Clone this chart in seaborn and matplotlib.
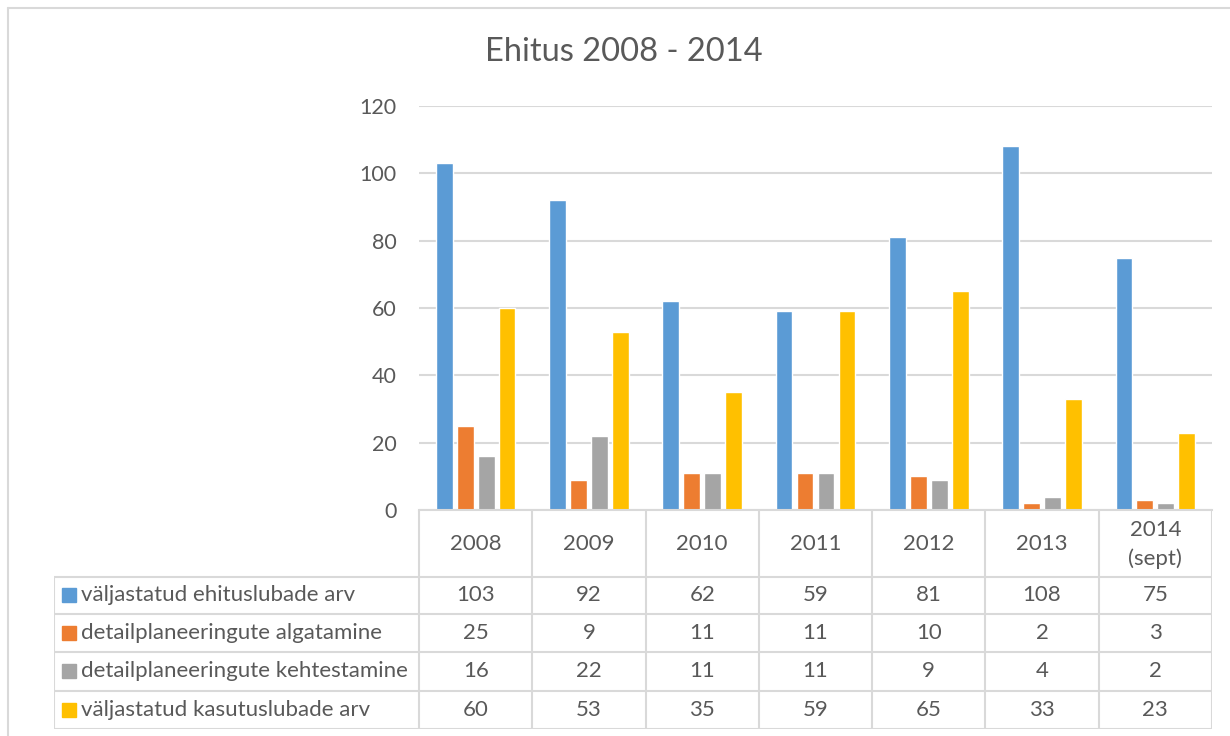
import matplotlib
matplotlib.use("Agg")
import matplotlib.pyplot as plt
import pandas as pd
import seaborn as sns
from matplotlib.patches import Rectangle
from matplotlib.lines import Line2D

years = ["2008", "2009", "2010", "2011", "2012", "2013", "2014\n(sept)"]
series = [
    "väljastatud ehituslubade arv",
    "detailplaneeringute algatamine",
    "detailplaneeringute kehtestamine",
    "väljastatud kasutuslubade arv",
]
ehitusload = [103, 92, 62, 59, 81, 108, 75]
dp_algatamine = [25, 9, 11, 11, 10, 2, 3]
dp_kehtestamine = [16, 22, 11, 11, 9, 4, 2]
kasutusload = [60, 53, 35, 59, 65, 33, 23]
colors = ["#5B9BD5", "#ED7D31", "#A5A5A5", "#FFC000"]

values = [ehitusload, dp_algatamine, dp_kehtestamine, kasutusload]
rows = []
for s, vals in zip(series, values):
    for y, v in zip(years, vals):
        rows.append({"year": y, "series": s, "value": v})
df = pd.DataFrame(rows)

sns.set_theme(style="white")
plt.rcParams["font.family"] = ["Lato", "DejaVu Sans"]
txt = "#595959"
grid = "#D9D9D9"
fs = 16

W, H = 1230, 736
fig = plt.figure(figsize=(W / 100, H / 100), dpi=100)

# main bar axes
x0, x1 = 419, 1212
y0, y1 = 106, 510
ax = fig.add_axes([x0 / W, 1 - y1 / H, (x1 - x0) / W, (y1 - y0) / H])
sns.barplot(data=df, x="year", y="value", hue="series", hue_order=series,
            order=years, palette=colors, width=0.74, gap=0.2, ax=ax,
            legend=False, saturation=1)
ax.set_ylim(0, 120)
ax.set_xlim(-0.5, len(years) - 0.5)
ax.set_yticks(range(0, 121, 20))
ax.yaxis.grid(True, color=grid, lw=1.5)
ax.set_axisbelow(True)
for sp in ["top", "right", "left"]:
    ax.spines[sp].set_visible(False)
ax.spines["bottom"].set_color(grid)
ax.spines["bottom"].set_linewidth(1.5)
ax.set_xticks([])
ax.set_xlabel("")
ax.set_ylabel("")
ax.tick_params(axis="y", length=0, labelsize=15.5, labelcolor=txt, pad=16)

# data table below
tl, tb = 54, 729
tax = fig.add_axes([tl / W, 1 - tb / H, (x1 - tl) / W, (tb - y1) / H])
col_w = (x1 - x0) / len(years)
xmin = -0.5 - (x0 - tl) / col_w
tax.set_xlim(xmin, len(years) - 0.5)
tax.set_ylim(tb, y1)
tax.axis("off")

row_edges = [510, 577, 614, 652, 691, 729]
lk = dict(color=grid, lw=1.5, solid_capstyle="butt")
# horizontal lines
for ye in row_edges[1:]:
    tax.add_line(Line2D([xmin, len(years) - 0.5], [ye, ye], **lk))
# vertical lines
for k in range(len(years) + 1):
    tax.add_line(Line2D([k - 0.5, k - 0.5], [row_edges[0], row_edges[-1]], **lk))
tax.add_line(Line2D([xmin, xmin], [row_edges[1], row_edges[-1]], **lk))

# header labels
hy = (row_edges[0] + row_edges[1]) / 2
for i, y in enumerate(years):
    tax.text(i, hy + 1, y, ha="center", va="center", fontsize=fs, color=txt,
             linespacing=1.55)

# rows
sq = 14 / col_w
for r, (s, vals, c) in enumerate(zip(series, values, colors)):
    cy = (row_edges[r + 1] + row_edges[r + 2]) / 2
    tax.add_patch(Rectangle((xmin + 8 / col_w, cy - 7), sq, 14, color=c,
                            clip_on=False))
    tax.text(xmin + 27 / col_w, cy, s, ha="left", va="center", fontsize=fs,
             color=txt)
    for i, v in enumerate(vals):
        tax.text(i, cy, str(v), ha="center", va="center", fontsize=fs,
                 color=txt)

fig.suptitle("Ehitus 2008 - 2014", x=624 / W, y=1 - 52 / H, va="center",
             fontsize=23.5, color=txt)

# chart area border
fig.add_artist(Line2D([8 / W, 1], [1 - 8 / H, 1 - 8 / H], color=grid, lw=1.5,
                      transform=fig.transFigure))
fig.add_artist(Line2D([8 / W, 8 / W], [0, 1 - 8 / H], color=grid, lw=1.5,
                      transform=fig.transFigure))

fig.savefig("out.png", dpi=100, facecolor="white")
